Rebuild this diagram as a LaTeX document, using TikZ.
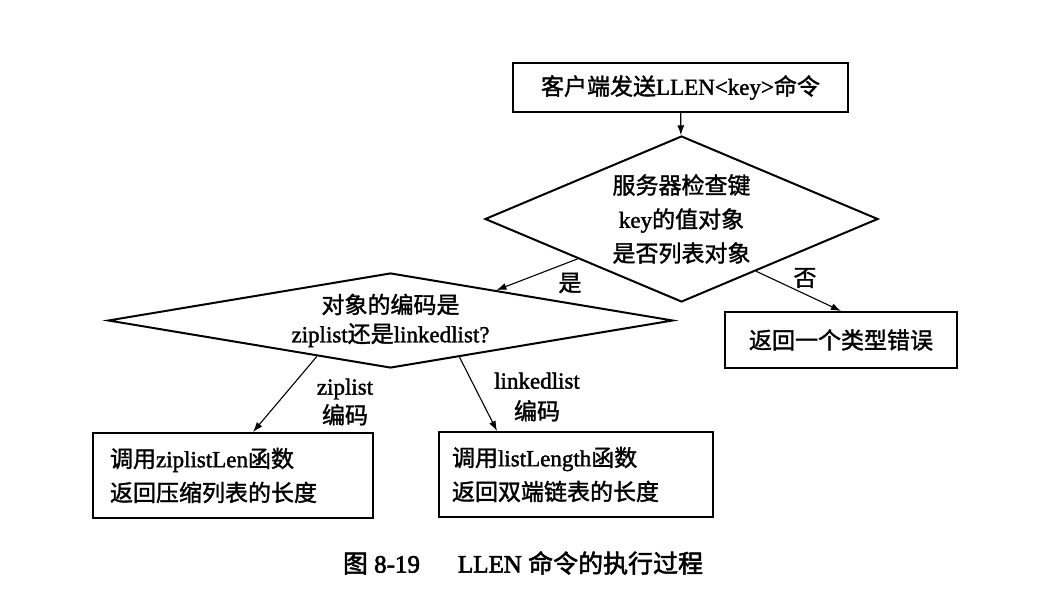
\documentclass[tikz,border=0pt]{standalone}
\usepackage{fontspec}
\setmainfont{Liberation Serif}[FakeBold=1.6]
\newfontfamily\zh{Noto Sans CJK SC}[FakeBold=1.5]
\newfontfamily\capfont{Liberation Serif}[FakeBold=2.5]
\newfontfamily\zhcap{Noto Sans CJK SC}[FakeBold=2]
\usetikzlibrary{shapes.geometric,arrows.meta}

\begin{document}
\begin{tikzpicture}[x=1pt, y=-1pt, font=\fontsize{23}{34}\selectfont,
  box/.style={draw, line width=2pt, inner sep=0pt},
  choice/.style={draw, diamond, line width=2pt, inner sep=0pt, align=center},
  flow/.style={line width=1.1pt, -{Latex[length=10pt, width=7pt]}}]
  \useasboundingbox (0,0) rectangle (1046,604);
  \node[box, minimum width=335pt, minimum height=49pt] (cmd) at (680.5,87.5) {{\zh 客户端发送}LLEN<key>{\zh 命令}};
  \node[choice, minimum width=393pt, minimum height=166pt, aspect=2.4] (check) at (681.5,219) {{\zh 服务器检查键}\\key{\zh 的值对象}\\{\zh 是否列表对象}};
  \node[box, minimum width=232pt, minimum height=56pt] (err) at (841,340) {\zh 返回一个类型错误};
  \node[choice, minimum width=565pt, minimum height=95pt, aspect=6, font=\fontsize{23}{29}\selectfont] (enc) at (390.5,320.5) {{\zh 对象的编码是}\\ziplist{\zh 还是}linkedlist?};
  \node[box, minimum height=85pt, text width=246pt, inner xsep=17pt, align=left] (zip) at (233,475.5) {{\zh 调用}ziplistLen{\zh 函数}\\{\zh 返回压缩列表的长度}};
  \node[box, minimum height=85pt, text width=248pt, inner xsep=13pt, align=left] (lst) at (576,474.5) {{\zh 调用}listLength{\zh 函数}\\{\zh 返回双端链表的长度}};
  \node (yes) at (570,283) {\zh 是};
  \node (no) at (805,278) {\zh 否};
  \node[align=center, font=\fontsize{23}{29}\selectfont] (ziplbl) at (345,402) {ziplist\\{\zh 编码}};
  \node[align=center, font=\fontsize{23}{31}\selectfont] (lstlbl) at (537,397) {linkedlist\\{\zh 编码}};
  \node[font=\fontsize{25}{30}\selectfont\capfont] (cap) at (523,563) {{\zhcap 图} 8-19\hspace{38pt}LLEN {\zhcap 命令的执行过程}};
  \draw[flow] (cmd) -- (check);
  \draw[flow] (check.201) -- (enc.16);
  \draw[flow] (check.-35) -- (err.north);
  \draw[flow] (enc.206) -- ([xshift=20pt]zip.north);
  \draw[flow] (enc.-28) -- ([xshift=59pt]lst.north west);
\end{tikzpicture}
\end{document}
